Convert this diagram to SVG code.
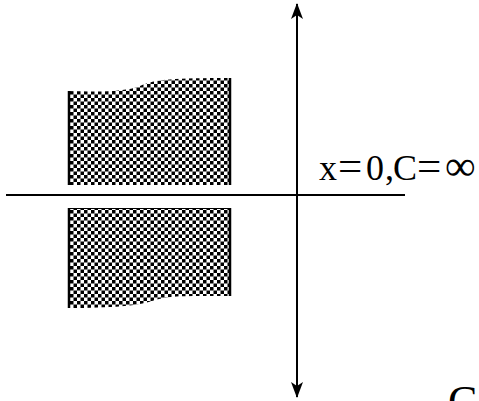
<svg xmlns="http://www.w3.org/2000/svg" width="479" height="401" viewBox="0 0 479 401">
<style>
.ax{stroke:#000;stroke-width:2;fill:none}
.edge{stroke:#000;stroke-width:2.5}
.t{font-family:"Liberation Serif",serif;fill:#000}
.big{font-size:43px}
</style>
<defs>
<pattern id="chk" width="7" height="7" patternUnits="userSpaceOnUse">
<rect width="7" height="7" fill="#fff"/>
<rect x="0" y="0" width="3.5" height="3.5" fill="#000"/>
<rect x="3.5" y="3.5" width="3.5" height="3.5" fill="#000"/>
</pattern>
<marker id="ah" viewBox="0 0 16 14" refX="15" refY="7" markerWidth="16" markerHeight="14" markerUnits="userSpaceOnUse" orient="auto">
<path d="M0,1 L16,7 L0,13 L4,7 Z" fill="#000"/>
</marker>
</defs>
<g id="upper-block">
<path d="M68,91 C100,92 125,92 140,86 C155,79 175,78 230,78 L230,185 L68,185 Z" fill="url(#chk)"/>
<line class="edge" x1="69" y1="91" x2="69" y2="185"/>
<line class="edge" x1="230" y1="78" x2="230" y2="185"/>
</g>
<g id="lower-block">
<path d="M68,208 L230,208 L230,296 C190,296 170,295 155,300 C140,306 110,308 68,308 Z" fill="url(#chk)"/>
<line class="edge" x1="69" y1="208" x2="69" y2="308"/>
<line class="edge" x1="230" y1="208" x2="230" y2="296"/>
<line x1="68" y1="208.5" x2="230" y2="208.5" stroke="#000" stroke-width="1"/>
</g>
<g id="connectors">
<line class="ax" x1="6" y1="195" x2="405" y2="195"/>
<line class="ax" x1="297" y1="200" x2="297" y2="4" marker-end="url(#ah)"/>
<line class="ax" x1="297" y1="190" x2="297" y2="397" marker-end="url(#ah)"/>
</g>
<g id="labels">
<text class="t" y="180" font-size="36"><tspan x="319">x</tspan><tspan x="338" class="big">=</tspan><tspan x="366">0</tspan><tspan x="385">,</tspan><tspan x="393">C</tspan><tspan x="417" class="big">=</tspan><tspan x="445" class="big">∞</tspan></text>
<text class="t" x="448" y="416" font-size="44">C</text>
</g>
</svg>
